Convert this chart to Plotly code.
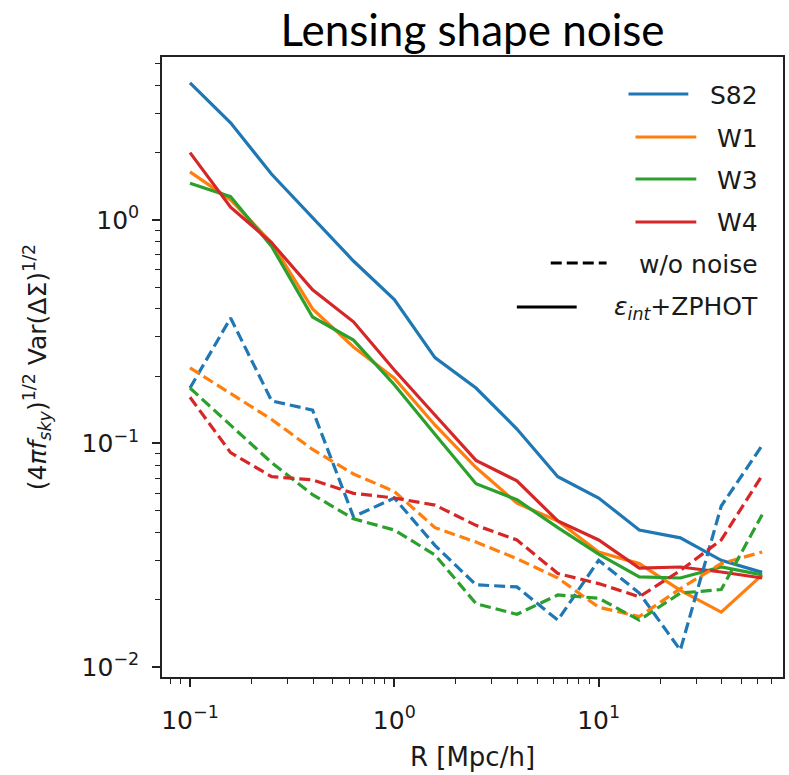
import plotly.graph_objects as go

# ---------------- data ----------------
R = [0.1, 0.158, 0.251, 0.398, 0.631, 1.0, 1.58, 2.51, 3.98, 6.31, 10.0, 15.8, 25.1, 39.8, 63.1]

S82_full = [4.1, 2.72, 1.6, 1.02, 0.655, 0.44, 0.242, 0.177, 0.116, 0.071, 0.057, 0.041, 0.0378, 0.030, 0.0265]
W1_full = [1.64, 1.23, 0.79, 0.40, 0.27, 0.196, 0.121, 0.078, 0.054, 0.045, 0.0327, 0.029, 0.022, 0.0176, 0.0258]
W3_full = [1.46, 1.27, 0.76, 0.368, 0.29, 0.183, 0.110, 0.066, 0.056, 0.042, 0.032, 0.0253, 0.025, 0.028, 0.0258]
W4_full = [2.0, 1.14, 0.79, 0.487, 0.35, 0.213, 0.134, 0.084, 0.068, 0.045, 0.037, 0.0277, 0.028, 0.0266, 0.025]

S82_nonoise = [0.177, 0.364, 0.155, 0.141, 0.047, 0.057, 0.035, 0.0233, 0.0228, 0.0162, 0.030, 0.0214, 0.0119, 0.0525, 0.098]
W1_nonoise = [0.218, 0.167, 0.128, 0.094, 0.073, 0.061, 0.042, 0.0362, 0.0305, 0.025, 0.0185, 0.0168, 0.0224, 0.029, 0.0327]
W3_nonoise = [0.177, 0.121, 0.082, 0.059, 0.046, 0.041, 0.0317, 0.0192, 0.0172, 0.021, 0.0203, 0.0162, 0.0214, 0.0222, 0.048]
W4_nonoise = [0.161, 0.091, 0.071, 0.0687, 0.0598, 0.057, 0.053, 0.043, 0.037, 0.0262, 0.0236, 0.0206, 0.027, 0.037, 0.072]

fields = ["S82", "W1", "W3", "W4"]
colors = ["#1f77b4", "#ff7f0e", "#2ca02c", "#d62728"]
full_series = [S82_full, W1_full, W3_full, W4_full]
nonoise_series = [S82_nonoise, W1_nonoise, W3_nonoise, W4_nonoise]
style_labels = ["w/o noise", "<i>ε</i><sub><i>int</i></sub>+ZPHOT"]

x_tickvals = [0.1, 1, 10]
x_ticktext = ["10<sup>−1</sup>", "10<sup>0</sup>", "10<sup>1</sup>"]
y_tickvals = [0.01, 0.1, 1]
y_ticktext = ["10<sup>−2</sup>", "10<sup>−1</sup>", "10<sup>0</sup>"]
x_minor = [0.08, 0.09] + [m * 0.1 for m in range(2, 10)] + [m * 1.0 for m in range(2, 10)] + [m * 10.0 for m in range(2, 8)]
y_minor = [m * 0.01 for m in range(2, 10)] + [m * 0.1 for m in range(2, 10)] + [m * 1.0 for m in range(2, 6)]

# ---------------- geometry ----------------
W, H = 789, 775
L, Rt, T, B = 162, 785, 57, 677
FONT = "DejaVu Sans"
DASH = "11px,5px"
LW = 3.2


def pxx(p):
    return (p - L) / (Rt - L)


def pxy(p):
    return (B - p) / (B - T)


fig = go.Figure()

for name, c, ys in zip(fields, colors, full_series):
    fig.add_trace(go.Scatter(x=R, y=ys, mode="lines", name=name,
                             line=dict(color=c, width=LW), showlegend=False))
for name, c, ys in zip(fields, colors, nonoise_series):
    fig.add_trace(go.Scatter(x=R, y=ys, mode="lines", name=name + " w/o noise",
                             line=dict(color=c, width=LW, dash=DASH), showlegend=False))

# ---------------- manual legend (right-aligned labels) ----------------
shapes = []
annotations = []
leg_rows = [
    (fields[0], colors[0], "solid", 630, 690, 94),
    (fields[1], colors[1], "solid", 637, 698, 137),
    (fields[2], colors[2], "solid", 637, 698, 179),
    (fields[3], colors[3], "solid", 637, 698, 222),
    (style_labels[0], "black", DASH, 552, 608, 263),
    (style_labels[1], "black", "solid", 518, 578, 307),
]
for text, c, d, x0, x1, yy in leg_rows:
    shapes.append(dict(type="line", xref="paper", yref="paper",
                       x0=pxx(x0), x1=pxx(x1), y0=pxy(yy), y1=pxy(yy),
                       line=dict(color=c, width=LW, dash=d)))
    annotations.append(dict(text=text, xref="paper", yref="paper",
                            x=pxx(762), y=pxy(yy + 1), xanchor="right", yanchor="middle",
                            showarrow=False, font=dict(family=FONT, size=25, color="#1a1a1a")))

axis_common = dict(
    type="log", showgrid=False, zeroline=False,
    showline=True, linecolor="#222", linewidth=1.6, mirror=True,
    ticks="outside", ticklen=8, tickwidth=1.5, tickcolor="#222",
    tickfont=dict(family=FONT, size=25, color="#1a1a1a"),
)

fig.update_layout(
    width=W, height=H,
    margin=dict(l=L, r=W - Rt, t=T, b=H - B),
    paper_bgcolor="white", plot_bgcolor="white",
    title=dict(text="Lensing shape noise", x=0.5, xref="paper", xanchor="center",
               y=1 - 31 / H, yref="container", yanchor="middle",
               font=dict(family="Lato", size=44, color="black")),
    xaxis=dict(axis_common, range=[-1.137, 1.902],
               tickmode="array", tickvals=x_tickvals, ticktext=x_ticktext,
               ticklabelstandoff=12,
               minor=dict(tickmode="array", tickvals=x_minor, ticks="outside", ticklen=5,
                          tickwidth=1.2, tickcolor="#222", showgrid=False),
               title=dict(text="R [Mpc/h]", standoff=14,
                          font=dict(family=FONT, size=26, color="#1a1a1a"))),
    yaxis=dict(axis_common, range=[-2.045, 0.729],
               tickmode="array", tickvals=y_tickvals, ticktext=y_ticktext,
               ticklabelstandoff=8,
               minor=dict(tickmode="array", tickvals=y_minor, ticks="outside", ticklen=5,
                          tickwidth=1.2, tickcolor="#222", showgrid=False),
               title=dict(text="(4<i>πf</i><sub><i>sky</i></sub>)<sup>1/2</sup> Var(ΔΣ)<sup>1/2</sup>",
                          standoff=28, font=dict(family=FONT, size=25, color="#1a1a1a"))),
    shapes=shapes,
    annotations=annotations,
)

fig.write_html("out.html")
